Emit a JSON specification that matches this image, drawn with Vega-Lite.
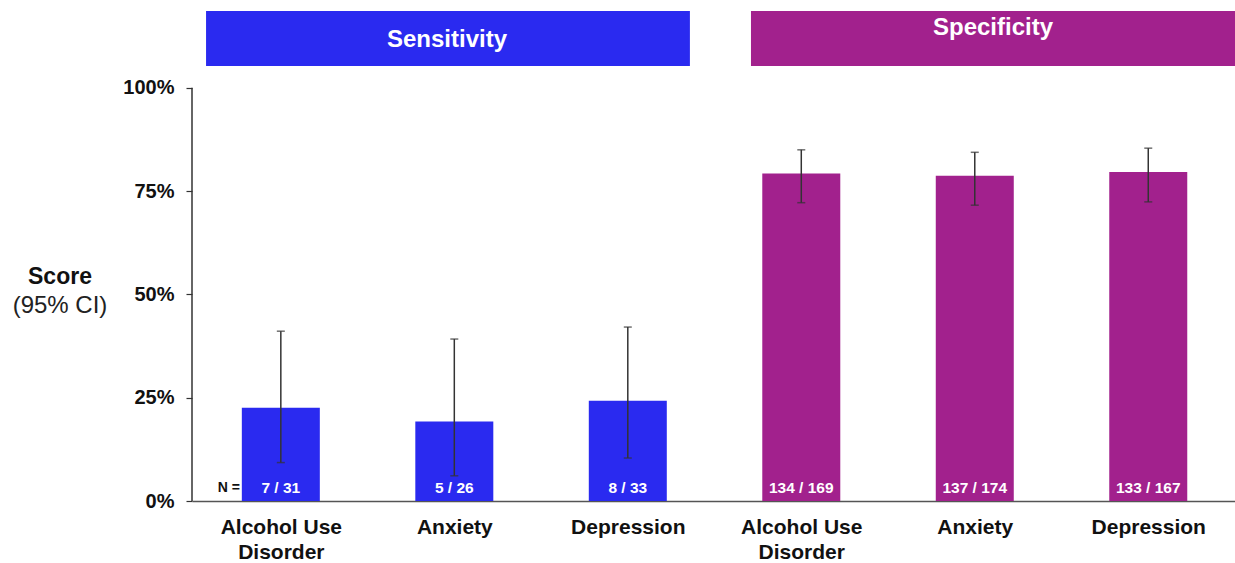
{
  "$schema": "https://vega.github.io/schema/vega-lite/v6.json",
  "width": 1043,
  "height": 490,
  "autosize": {"type": "none"},
  "padding": {"left": 192, "top": 11, "right": 0, "bottom": 62},
  "background": "white",
  "config": {"view": {"stroke": null}, "font": "Liberation Sans"},
  "datasets": {
    "bars": [
      {"pos": 1, "group": "Sensitivity", "cond": "Alcohol Use Disorder", "value": 22.58, "lo": 9.3, "hi": 41.1, "n": "7  / 31"},
      {"pos": 2, "group": "Sensitivity", "cond": "Anxiety", "value": 19.23, "lo": 6.1, "hi": 39.2, "n": "5 / 26"},
      {"pos": 3, "group": "Sensitivity", "cond": "Depression", "value": 24.24, "lo": 10.4, "hi": 42.1, "n": "8 / 33"},
      {"pos": 4, "group": "Specificity", "cond": "Alcohol Use Disorder", "value": 79.29, "lo": 72.2, "hi": 85.0, "n": "134 / 169"},
      {"pos": 5, "group": "Specificity", "cond": "Anxiety", "value": 78.74, "lo": 71.6, "hi": 84.4, "n": "137 / 174"},
      {"pos": 6, "group": "Specificity", "cond": "Depression", "value": 79.64, "lo": 72.4, "hi": 85.4, "n": "133 / 167"}
    ],
    "headers": [
      {"group": "Sensitivity", "x0": 0.569, "x1": 3.358, "y0": 105.3, "y1": 118.6, "tx": 1.958, "ty": 111.6},
      {"group": "Specificity", "x0": 3.71, "x1": 6.5, "y0": 105.3, "y1": 118.6, "tx": 5.105, "ty": 114.5}
    ],
    "axisline": [{"x": 0.488, "lo": 0, "hi": 100}],
    "ytitle1": [{"x": -0.273, "y": 54.2, "t": "Score"}],
    "ytitle2": [{"x": -0.273, "y": 47.2, "t": "(95% CI)"}],
    "nlabel": [{"x": 0.701, "y": 3.1, "t": "N ="}]
  },
  "layer": [
    {
      "data": {"name": "bars"},
      "mark": {"type": "bar", "width": 78},
      "encoding": {
        "x": {"field": "pos", "type": "quantitative",
          "scale": {"domain": [0.488, 6.5], "nice": false, "zero": false, "padding": 0},
          "axis": {"values": [1, 2, 3, 4, 5, 6], "title": null, "grid": false,
            "ticks": false, "domain": true, "domainColor": "#555", "domainWidth": 1.5,
            "labelFont": "Liberation Sans", "labelFontWeight": "bold", "labelFontSize": 21,
            "labelColor": "#111", "labelPadding": 15, "labelBaseline": "top", "labelLineHeight": 25,
            "labelFlush": false, "labelOverlap": false,
            "labelExpr": "datum.value == 1 || datum.value == 4 ? ['Alcohol Use', 'Disorder'] : (datum.value == 2 || datum.value == 5 ? 'Anxiety' : 'Depression')"}},
        "y": {"field": "value", "type": "quantitative",
          "scale": {"domain": [0, 118.6], "nice": false, "padding": 0},
          "axis": {"values": [0, 25, 50, 75, 100], "title": null, "grid": false,
            "domain": false, "tickSize": 6, "tickColor": "#333", "tickWidth": 1.2,
            "labelFont": "Liberation Sans", "labelFontWeight": "bold", "labelFontSize": 20,
            "labelColor": "#111", "labelPadding": 12,
            "labelExpr": "datum.value + '%'"}},
        "color": {"field": "group", "type": "nominal",
          "scale": {"domain": ["Sensitivity", "Specificity"], "range": ["#2A2AF0", "#A2218D"]},
          "legend": null}
      }
    },
    {
      "data": {"name": "bars"},
      "mark": {"type": "rule", "color": "#333", "strokeWidth": 1.5},
      "encoding": {
        "x": {"field": "pos", "type": "quantitative"},
        "y": {"field": "lo", "type": "quantitative"},
        "y2": {"field": "hi"}
      }
    },
    {
      "data": {"name": "bars"},
      "mark": {"type": "tick", "orient": "horizontal", "color": "#333", "size": 8, "thickness": 1.5},
      "encoding": {
        "x": {"field": "pos", "type": "quantitative"},
        "y": {"field": "lo", "type": "quantitative"}
      }
    },
    {
      "data": {"name": "bars"},
      "mark": {"type": "tick", "orient": "horizontal", "color": "#333", "size": 8, "thickness": 1.5},
      "encoding": {
        "x": {"field": "pos", "type": "quantitative"},
        "y": {"field": "hi", "type": "quantitative"}
      }
    },
    {
      "data": {"name": "bars"},
      "mark": {"type": "text", "color": "white", "fontWeight": "bold", "fontSize": 15.5, "font": "Liberation Sans", "baseline": "middle"},
      "encoding": {
        "x": {"field": "pos", "type": "quantitative"},
        "y": {"datum": 3.1, "type": "quantitative"},
        "text": {"field": "n"}
      }
    },
    {
      "data": {"name": "nlabel"},
      "mark": {"type": "text", "color": "#111", "fontWeight": "bold", "fontSize": 14, "font": "Liberation Sans", "baseline": "middle"},
      "encoding": {
        "x": {"field": "x", "type": "quantitative"},
        "y": {"field": "y", "type": "quantitative"},
        "text": {"field": "t"}
      }
    },
    {
      "data": {"name": "axisline"},
      "mark": {"type": "rule", "color": "#333", "strokeWidth": 1.5},
      "encoding": {
        "x": {"field": "x", "type": "quantitative"},
        "y": {"field": "lo", "type": "quantitative"},
        "y2": {"field": "hi"}
      }
    },
    {
      "data": {"name": "headers"},
      "mark": {"type": "rect"},
      "encoding": {
        "x": {"field": "x0", "type": "quantitative"},
        "x2": {"field": "x1"},
        "y": {"field": "y0", "type": "quantitative"},
        "y2": {"field": "y1"},
        "color": {"field": "group", "type": "nominal"}
      }
    },
    {
      "data": {"name": "headers"},
      "mark": {"type": "text", "color": "white", "fontWeight": "bold", "fontSize": 24, "font": "Liberation Sans", "baseline": "middle"},
      "encoding": {
        "x": {"field": "tx", "type": "quantitative"},
        "y": {"field": "ty", "type": "quantitative"},
        "text": {"field": "group"}
      }
    },
    {
      "data": {"name": "ytitle1"},
      "mark": {"type": "text", "color": "#111", "fontSize": 23, "fontWeight": "bold", "font": "Liberation Sans", "baseline": "middle", "clip": false},
      "encoding": {
        "x": {"field": "x", "type": "quantitative"},
        "y": {"field": "y", "type": "quantitative"},
        "text": {"field": "t"}
      }
    },
    {
      "data": {"name": "ytitle2"},
      "mark": {"type": "text", "color": "#222", "fontSize": 24, "font": "Liberation Sans", "baseline": "middle", "clip": false},
      "encoding": {
        "x": {"field": "x", "type": "quantitative"},
        "y": {"field": "y", "type": "quantitative"},
        "text": {"field": "t"}
      }
    }
  ]
}
